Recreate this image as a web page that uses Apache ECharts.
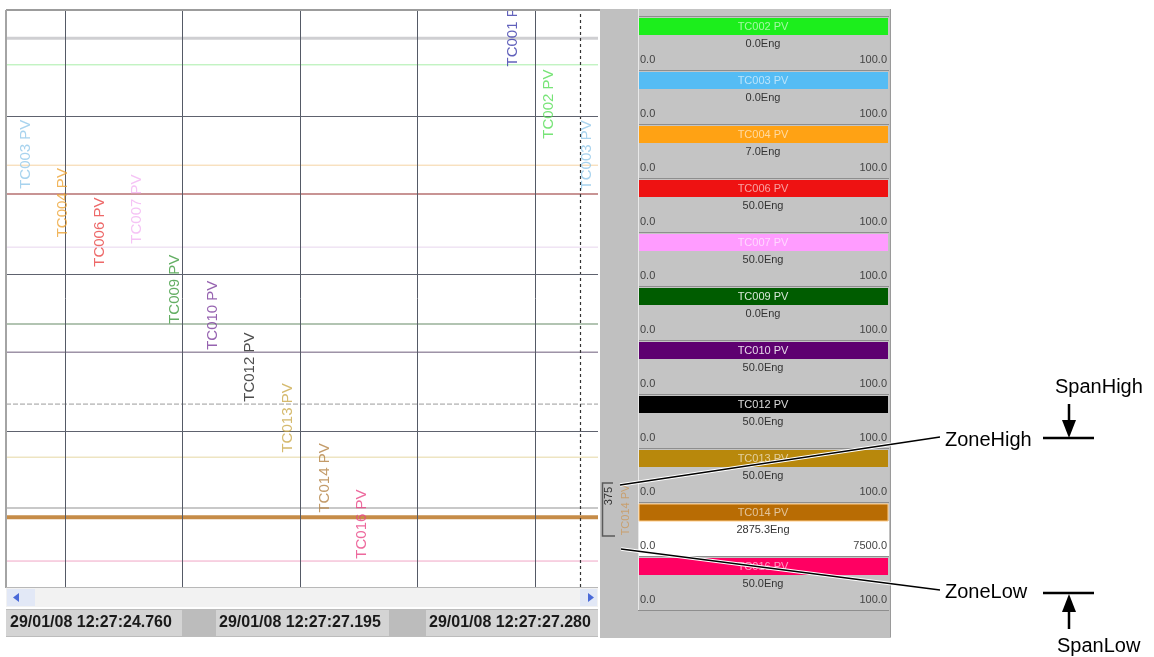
<!DOCTYPE html>
<html><head><meta charset="utf-8">
<script src="https://cdn.jsdelivr.net/npm/echarts@6/dist/echarts.min.js"></script>
<style>html,body{margin:0;padding:0;background:#fff}#c{width:1154px;height:657px}</style>
</head><body><div id="c"></div>
<script>
// ---------- data ----------
const penNames   = ['TC001 PV','TC002 PV','TC003 PV','TC004 PV','TC006 PV','TC007 PV','TC009 PV','TC010 PV','TC012 PV','TC013 PV','TC014 PV','TC016 PV'];
const penValues  = [null,'0.0','0.0','7.0','50.0','50.0','0.0','50.0','50.0','50.0','2875.3','50.0'];
const spanLows   = ['0.0','0.0','0.0','0.0','0.0','0.0','0.0','0.0','0.0','0.0','0.0','0.0'];
const spanHighs  = ['100.0','100.0','100.0','100.0','100.0','100.0','100.0','100.0','100.0','100.0','7500.0','100.0'];
// trace level of each pen, as % of the trend window height
const traceLevels = [95.1, 90.5, 13.7, 73.1, 68.1, 58.9, 45.6, 40.7, 31.7, 22.5, 12.1, 4.5];
// time grid (as % of the window width), cursor and level grid
const timeGrid   = [9.97, 29.73, 49.66, 69.43, 89.36];
const cursorAt   = [96.96];
const levelGrid  = [81.5, 54.2, 27.0];
const timeLabels = ['29/01/08 12:27:24.760','29/01/08 12:27:27.195','29/01/08 12:27:27.280'];
// pen name tags drawn in the window
const tagPens = ['TC003 PV','TC004 PV','TC006 PV','TC007 PV','TC009 PV','TC010 PV','TC012 PV','TC013 PV','TC014 PV','TC016 PV','TC001 PV','TC002 PV','TC003 PV'];
const tagX    = [3.4, 9.6, 15.9, 22.1, 28.5, 35.0, 41.2, 47.6, 53.9, 60.1, 85.6, 91.7, 98.1];
const tagY    = [75.0, 66.6, 61.5, 65.5, 51.6, 47.1, 38.1, 29.3, 18.9, 10.9, 96.2, 83.7, 74.9];
const zoneTagValue = '375';
const annotations = ['SpanHigh','ZoneHigh','ZoneLow','SpanLow'];

// ---------- styles ----------
const F = "'Liberation Sans', Arial, sans-serif";
const headerColors = {'TC001 PV':'#3434a4','TC002 PV':'#1cee1c','TC003 PV':'#55bcf4','TC004 PV':'#ffa214','TC006 PV':'#ee1212',
  'TC007 PV':'#ff9cff','TC009 PV':'#005c00','TC010 PV':'#5e0070','TC012 PV':'#000000','TC013 PV':'#b8880c','TC014 PV':'#b86c04','TC016 PV':'#ff0062'};
const tagColors = {'TC001 PV':'#3a3aaa','TC002 PV':'#55dd55','TC003 PV':'#92c8ea','TC004 PV':'#eea434','TC006 PV':'#e84444',
  'TC007 PV':'#f2b4f2','TC009 PV':'#3c9a3c','TC010 PV':'#7c3c9c','TC012 PV':'#222222','TC013 PV':'#caa94a','TC014 PV':'#b48244','TC016 PV':'#e84484'};
const traceStyles = [
  {c:'#cfcfd2',w:3},{c:'#a8eea8',w:1},{c:'#b6b6b6',w:1.5},{c:'#f6d4a4',w:1},{c:'#c89494',w:2},{c:'#e8d6ee',w:1},
  {c:'#b2c4b2',w:2},{c:'#6c5c7a',w:1},{c:'#9c9c9c',w:1,t:[5,2]},{c:'#e6d8a4',w:1},{c:'#c68c48',w:4},{c:'#f0a6c6',w:1}
];

// ---------- series ----------
const series = [];
series.push({
  type:'line', data:[[0,null]], symbol:'none', silent:true, z:2,
  markLine:{symbol:'none', silent:true, label:{show:false}, animation:false,
    data:[
      ...timeGrid.map(v=>({xAxis:v, lineStyle:{color:'#555a66',width:1,type:'solid'}})),
      ...cursorAt.map(v=>({xAxis:v, lineStyle:{color:'#333333',width:1.2,type:[3,3]}})),
      ...levelGrid.map(v=>({yAxis:v, lineStyle:{color:'#5e626e',width:1,type:'solid'}}))
    ]}
});
penNames.forEach((n,i)=>{
  if (traceLevels[i]==null) return;
  const s = traceStyles[i];
  series.push({name:n, type:'line', symbol:'none', silent:true, z:(i===10?4:3),
    data:[[0,traceLevels[i]],[100,traceLevels[i]]],
    lineStyle:{color:s.c, width:s.w, type:s.t||'solid'}});
});
series.push({type:'scatter', symbolSize:1, silent:true, z:6,
  itemStyle:{color:'rgba(0,0,0,0)'},
  data: tagPens.map((n,i)=>({name:n, value:[tagX[i],tagY[i]], label:{color:tagColors[n]}})),
  label:{show:true, position:'inside', rotate:90, formatter:'{b}', fontFamily:F, fontSize:15, align:'center', verticalAlign:'middle'}
});

// ---------- graphics ----------
const g = [];
const R = (x,y,w,h,fill,z,stroke)=>g.push({type:'rect',silent:true,z:z||1,shape:{x,y,width:w,height:h},style:{fill,stroke:stroke||null,lineWidth:stroke?1:0}});
const L = (x1,y1,x2,y2,stroke,lw,z)=>g.push({type:'line',silent:true,z:z||2,shape:{x1,y1,x2,y2},style:{stroke,lineWidth:lw}});
const P = (pts,fill,z)=>g.push({type:'polygon',silent:true,z:z||2,shape:{points:pts},style:{fill}});
const T = (x,y,t,o)=>g.push({type:'text',silent:true,z:o.z||3,x,y,rotation:o.rot||0,
  style:{text:t,x:0,y:0,fill:o.fill||'#000',fontSize:o.size||11,fontFamily:F,fontWeight:o.weight||'normal',
    align:o.align||'left',verticalAlign:'middle',textAlign:o.align||'left',textVerticalAlign:'middle'}});

// window borders
L(6,10,600,10,'#9c9c9c',2,10);
L(6,10,6,588,'#a4a4a4',2,10);
L(6,587.5,598,587.5,'#b8b8b8',1,10);

// right pen panel
R(600,9,291,629,'#c0c0c0',1);
L(890.5,9,890.5,637,'#9a9a9a',1,2);
penNames.forEach((n,i)=>{
  const t = 18 + 54*(i-1);
  const sel = (n==='TC014 PV');
  R(638,t-2,251,54,'#c4c4c4',2);
  if (sel) R(638,t+17,251,35,'#ffffff',2);
  L(638.5,t-2,638.5,t+52,'#e8e8e8',1,3);
  L(638,t+52.5,889,t+52.5,'#8e8e8e',1,3);
  R(639,t,249,17,headerColors[n],3, sel?'#ffcc88':null);
  const dark = ['TC009 PV','TC010 PV','TC012 PV'].includes(n);
  T(763,t+8.5,n,{fill:dark?'rgba(255,255,255,0.85)':'rgba(255,255,255,0.6)',align:'center',z:4});
  if (penValues[i]!=null) T(763,t+26,penValues[i]+'Eng',{fill:'#333',align:'center',z:4});
  T(640,t+42,spanLows[i],{fill:'#444',size:11,z:4});
  T(887,t+42,spanHighs[i],{fill:'#444',size:11,align:'right',z:4});
});

// zone bracket for the selected pen
g.push({type:'polyline',silent:true,z:5,shape:{points:[[613,483],[602.5,483],[602.5,536],[615,536]]},style:{stroke:'#5a5a5a',lineWidth:1.5,fill:null}});
T(609,496,zoneTagValue,{fill:'#333',size:11,rot:Math.PI/2,align:'center',z:5});
T(626,510,'TC014 PV',{fill:'#c8a070',size:11,rot:Math.PI/2,align:'center',z:5});

// cover above the window (clips the top)
R(0,0,1154,9,'#ffffff',100);

// scrollbar
R(6,588,592,19,'#f2f2f2',5);
R(7,589,28,17,'#e2e8f6',6);
P([[13,597.5],[19,593],[19,602]],'#4a6ad8',7);
R(580,589,17,17,'#e2e8f6',6);
P([[594,597.5],[588,593],[588,602]],'#4a6ad8',7);

// time stamps
R(6,609,592,28,'#bcbcbc',5);
R(6,610,176,26,'#d4d4d4',6);
R(216,610,173,26,'#d4d4d4',6);
R(426,610,172,26,'#d4d4d4',6);
T(10,623,timeLabels[0],{fill:'#1a1a1a',size:16,weight:'bold',z:7});
T(219,623,timeLabels[1],{fill:'#1a1a1a',size:16,weight:'bold',z:7});
T(429,623,timeLabels[2],{fill:'#1a1a1a',size:16,weight:'bold',z:7});

// annotation call-outs
L(620,485,940,437,'#ffffff',3.5,20); L(620,485,940,437,'#000000',1.3,21);
L(621,549,940,590,'#ffffff',3.5,20); L(621,549,940,590,'#000000',1.3,21);
T(1055,387,annotations[0],{size:20,z:21});
T(945,440,annotations[1],{size:20,z:21});
T(945,592,annotations[2],{size:20,z:21});
T(1057,646,annotations[3],{size:20,z:21});
L(1043,438,1094,438,'#000',2.5,21);
L(1069,404,1069,424,'#000',2.5,21);
P([[1062,420],[1076,420],[1069,438]],'#000',21);
L(1043,593,1094,593,'#000',2.5,21);
L(1069,608,1069,629,'#000',2.5,21);
P([[1069,594],[1062,612],[1076,612]],'#000',21);

const chart = echarts.init(document.getElementById('c'));
chart.setOption({
  animation:false,
  backgroundColor:'#ffffff',
  grid:{left:6, top:10, right:556, bottom:70, containLabel:false},
  xAxis:{type:'value', min:0, max:100, show:false, splitLine:{show:false}},
  yAxis:{type:'value', min:0, max:100, show:false, splitLine:{show:false}},
  series,
  graphic:{elements:g}
});
</script></body></html>
